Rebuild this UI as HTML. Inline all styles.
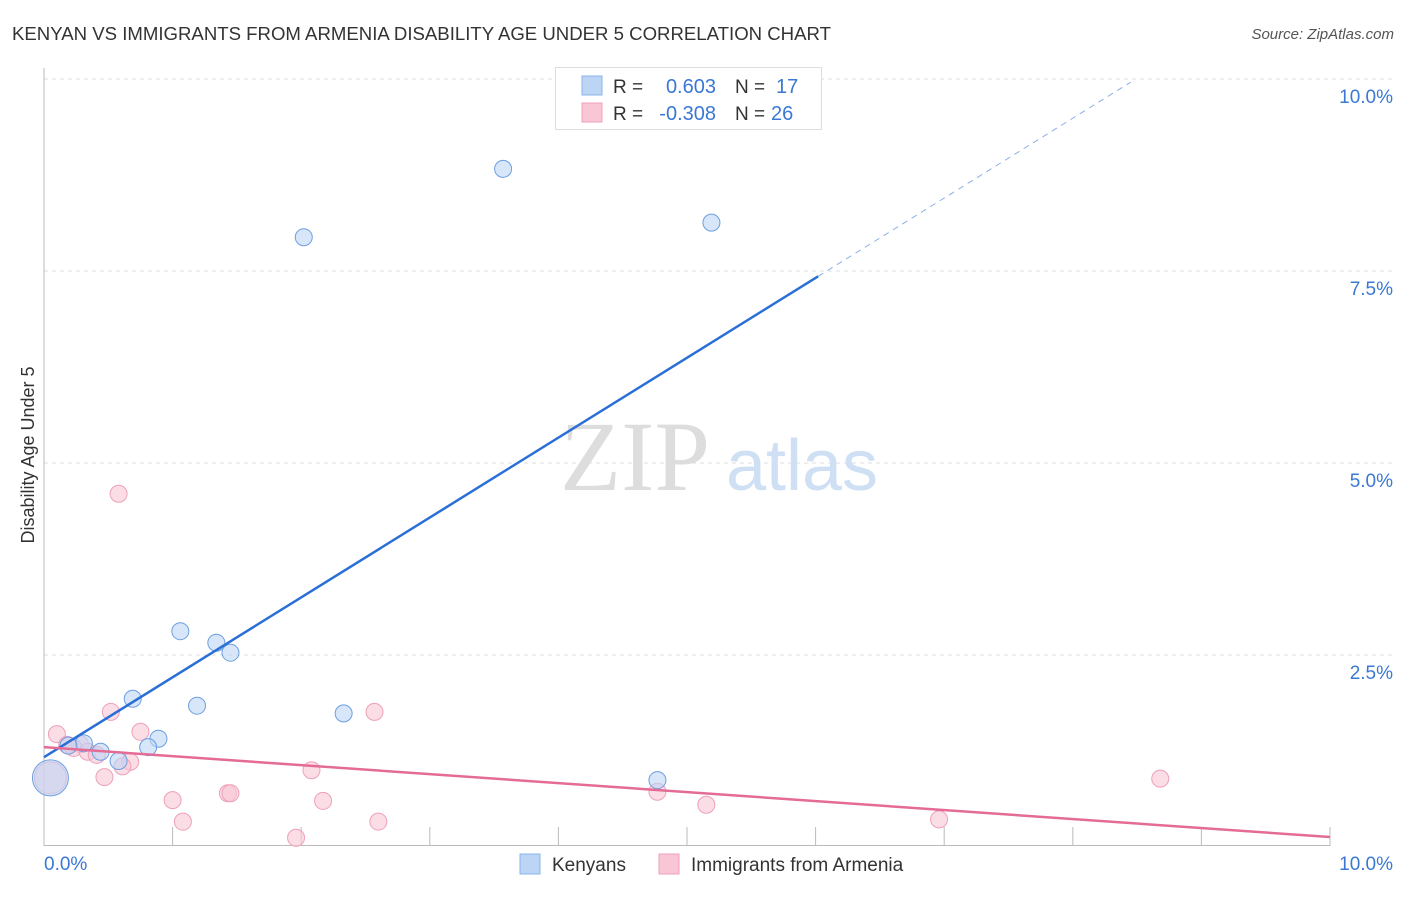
<!DOCTYPE html>
<html><head><meta charset="utf-8"><style>
body{margin:0;background:#fff;font-family:"Liberation Sans",sans-serif;}
</style></head><body>
<svg id="c" width="1406" height="892" xmlns="http://www.w3.org/2000/svg" font-family="Liberation Sans, sans-serif">
<text x="12" y="40" font-size="18.6" fill="#333">KENYAN VS IMMIGRANTS FROM ARMENIA DISABILITY AGE UNDER 5 CORRELATION CHART</text>
<text x="1394" y="39" font-size="15" fill="#555" font-style="italic" text-anchor="end">Source: ZipAtlas.com</text>
<text transform="translate(34,455) rotate(-90)" font-size="18" fill="#333" text-anchor="middle">Disability Age Under 5</text>
<g id="grid"></g>
<text x="635" y="490" font-size="100" fill="#ddd" text-anchor="middle" style="font-family:'Liberation Serif',serif">ZIP</text>
<text x="802" y="490" font-size="72" fill="#cfe0f5" text-anchor="middle">atlas</text>
<g id="pts"></g>
<g id="lines"></g>
<g>
<rect x="555.5" y="67.5" width="266" height="62" fill="#fff" stroke="#ddd"/>
<rect x="582" y="76" width="20" height="19" fill="#bcd5f5" stroke="#8ab4ea"/>
<rect x="582" y="103" width="20" height="19" fill="#f9c6d6" stroke="#f0a0bb"/>
<text x="613" y="93" font-size="19" fill="#333">R = </text><text x="716" y="93" font-size="20" fill="#3a78d4" text-anchor="end">0.603</text>
<text x="735" y="93" font-size="19" fill="#333">N = </text><text x="776" y="93" font-size="20" fill="#3a78d4">17</text>
<text x="613" y="120" font-size="19" fill="#333">R = </text><text x="716" y="120" font-size="20" fill="#3a78d4" text-anchor="end">-0.308</text>
<text x="735" y="120" font-size="19" fill="#333">N = </text><text x="771" y="120" font-size="20" fill="#3a78d4">26</text>
</g>
<g>
<rect x="520" y="854" width="20" height="20" fill="#bcd5f5" stroke="#8ab4ea"/>
<text x="552" y="871" font-size="19" fill="#333">Kenyans</text>
<rect x="659" y="854" width="20" height="20" fill="#f9c6d6" stroke="#f0a0bb"/>
<text x="691" y="871" font-size="19" fill="#333">Immigrants from Armenia</text>
</g>
</svg>
<script>
const blueX=[2.02,3.57,5.19,1.06,1.34,1.45,0.69,1.19,0.89,0.81,0.31,0.19,0.44,0.58,2.33,4.77,0.05];
const blueY=[7.94,8.83,8.13,2.81,2.66,2.53,1.93,1.84,1.41,1.30,1.35,1.32,1.24,1.12,1.74,0.87,0.90];
const pinkX=[0.58,0.52,2.57,0.10,0.75,0.18,0.28,0.23,0.34,0.41,0.67,0.61,0.47,0.05,2.08,1.00,1.43,1.45,2.17,1.08,2.60,1.96,4.77,5.15,6.96,8.68];
const pinkY=[4.60,1.76,1.76,1.47,1.50,1.33,1.34,1.29,1.24,1.20,1.11,1.05,0.91,0.90,1.00,0.61,0.70,0.70,0.60,0.33,0.33,0.12,0.72,0.55,0.36,0.89];
const yTicks=[2.5,5.0,7.5,10.0];
const yTickLabels=["2.5%","5.0%","7.5%","10.0%"];
const blueTrend=[1.17,1.04];
const pinkTrend=[1.30,-0.117];
const NS="http://www.w3.org/2000/svg";
const X=v=>44+v*128.6, Y=v=>847-v*76.8;
function mk(t,a,p){const e=document.createElementNS(NS,t);for(const k in a)e.setAttribute(k,a[k]);p.appendChild(e);return e;}
const g=document.getElementById('grid');
yTicks.forEach((t,i)=>{
 const l=mk('line',{x1:44,x2:1394,y1:Y(t),y2:Y(t),stroke:'#ddd','stroke-dasharray':'4,4'},g);
 
 
 const tx=mk('text',{x:1393,y:Y(t)+24,'font-size':19,fill:'#3a78d4','text-anchor':'end'},g);
 tx.textContent=yTickLabels[i];
 
 
});
mk('line',{x1:44,x2:44,y1:68,y2:846,stroke:'#bbb'},g);
mk('line',{x1:44,x2:1330,y1:845.5,y2:845.5,stroke:'#bbb'},g);
for(let i=1;i<=10;i++){mk('line',{x1:X(i),x2:X(i),y1:827,y2:846,stroke:'#bbb'},g);}
const x0=mk('text',{x:44,y:870,'font-size':19,fill:'#3a78d4'},g);x0.textContent='0.0%';


const x1=mk('text',{x:1393,y:870,'font-size':19,fill:'#3a78d4','text-anchor':'end'},g);x1.textContent='10.0%';


const P=document.getElementById('pts');
pinkX.forEach((v,i)=>{const c=mk('circle',{cx:X(v),cy:Y(pinkY[i]),r:i==13?16:8.5,fill:'#f9c6d6','fill-opacity':0.6,stroke:'#eea0ba'},P);
 
 });
blueX.forEach((v,i)=>{const c=mk('circle',{cx:X(v),cy:Y(blueY[i]),r:i==16?18:8.5,fill:'#bcd5f5','fill-opacity':0.6,stroke:'#6d9fe0'},P);
 
 });
const L=document.getElementById('lines');
const bl=mk('line',{x1:X(0),y1:Y(blueTrend[0]),x2:X(6.02),y2:Y(blueTrend[0]+blueTrend[1]*6.02),stroke:'#2a6fd6','stroke-width':2.5},L);


const bd=mk('line',{x1:X(6.02),y1:Y(blueTrend[0]+blueTrend[1]*6.02),x2:X(8.45),y2:Y(blueTrend[0]+blueTrend[1]*8.45),stroke:'#8ab0e6','stroke-width':1,'stroke-dasharray':'6,5'},L);


const pl=mk('line',{x1:X(0),y1:Y(pinkTrend[0]),x2:X(10),y2:Y(pinkTrend[0]+pinkTrend[1]*10),stroke:'#e56b97','stroke-width':2.5},L);


</script>
</body></html>
